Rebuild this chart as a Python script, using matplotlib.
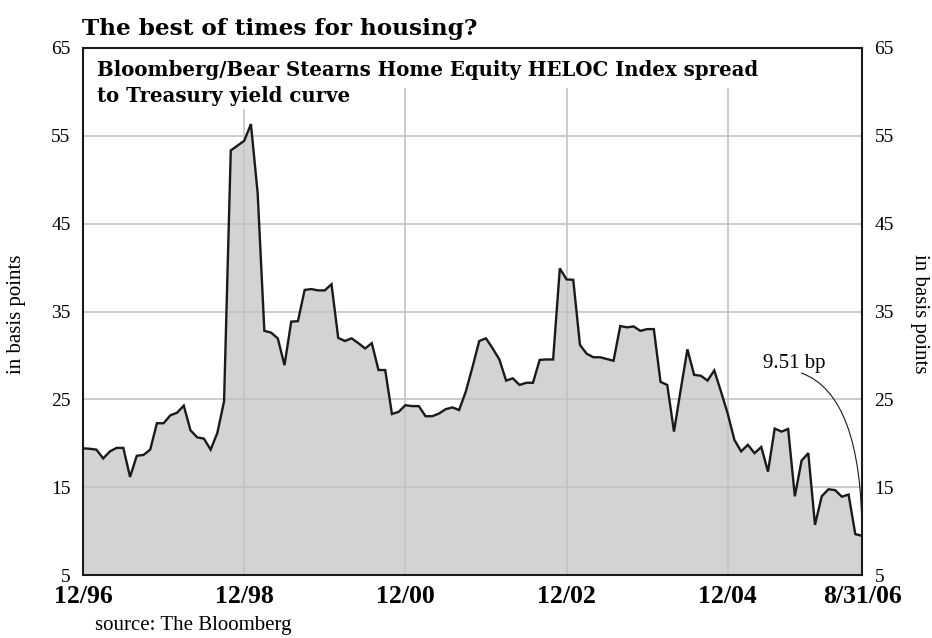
import matplotlib
matplotlib.use("Agg")
import matplotlib.pyplot as plt
import numpy as np

# monthly spread readings, 12/96 through 8/06 (basis points)
spread = [
    19.45, 19.4, 19.3, 18.3, 19.1, 19.5, 19.5, 16.2, 18.6, 18.7,
    19.3, 22.3, 22.3, 23.2, 23.5, 24.3, 21.5, 20.7, 20.55, 19.3,
    21.2, 24.8, 53.3, 53.85, 54.4, 56.3, 48.5, 32.8, 32.6, 31.95,
    28.9, 33.85, 33.9, 37.45, 37.55, 37.4, 37.4, 38.1, 32.0, 31.65,
    31.95, 31.4, 30.8, 31.4, 28.35, 28.35, 23.35, 23.6, 24.35, 24.25,
    24.25, 23.1, 23.1, 23.4, 23.9, 24.1, 23.8, 25.9, 28.7, 31.65,
    31.95, 30.8, 29.55, 27.15, 27.4, 26.65, 26.9, 26.9, 29.5, 29.55,
    29.55, 39.9, 38.65, 38.6, 31.2, 30.2, 29.8, 29.8, 29.6, 29.4,
    33.35, 33.2, 33.3, 32.8, 33.0, 33.0, 27.0, 26.65, 21.35, 26.1,
    30.7, 27.8, 27.7, 27.15, 28.3, 25.9, 23.4, 20.4, 19.1, 19.85,
    18.9, 19.6, 16.8, 21.7, 21.35, 21.65, 14.0, 18.05, 18.9, 10.75,
    14.0, 14.8, 14.7, 13.95, 14.2, 9.7, 9.51,
]
months = np.arange(len(spread))

tick_pos = [0, 24, 48, 72, 96, 116]
tick_labels = ["12/96", "12/98", "12/00", "12/02", "12/04", "8/31/06"]
y_ticks = [5, 15, 25, 35, 45, 55, 65]

serif = ["Liberation Serif", "DejaVu Serif"]
wide_serif = ["DejaVu Serif"]

fig = plt.figure(figsize=(9.32, 6.38), dpi=100)
ax = fig.add_axes([0.0891, 0.098, 0.8358, 0.8275])

ax.fill_between(months, 5, spread, color="#d2d3d5", lw=0, zorder=1)
ax.plot(months, spread, color="#1a1a1a", lw=1.7, zorder=4, solid_joinstyle="miter")

# grid lines
for v in y_ticks[1:-1]:
    ax.axhline(v, color="#c3c3c3", lw=1.2, zorder=2)
ax.vlines(tick_pos[1:-1], 5, 60.4, color="#c3c3c3", lw=1.2, zorder=2)

ax.set_xlim(0, 116)
ax.set_ylim(5, 65)
ax.set_yticks(y_ticks)
ax.set_yticklabels([str(v) for v in y_ticks], family=serif, fontsize=14)
ax.set_xticks(tick_pos)
ax.set_xticklabels(tick_labels, family=serif, fontsize=18.5, fontweight="bold")
ax.tick_params(axis="y", length=0, pad=9, labelleft=True, labelright=True)
ax.tick_params(axis="x", length=0, pad=7)
for s in ax.spines.values():
    s.set_linewidth(1.5)
    s.set_color("#1a1a1a")
    s.set_zorder(5)

# subtitle inside the plot
box = dict(facecolor="white", edgecolor="none", pad=2)
ax.text(0.018, 0.946, "Bloomberg/Bear Stearns Home Equity HELOC Index spread",
        transform=ax.transAxes, family=wide_serif, fontsize=14.2, fontweight="bold",
        va="baseline", ha="left", zorder=6, bbox=box)
ax.text(0.018, 0.897, "to Treasury yield curve",
        transform=ax.transAxes, family=wide_serif, fontsize=14.2, fontweight="bold",
        va="baseline", ha="left", zorder=6, bbox=box)

# end-value callout
ax.text(105.9, 28.6, "9.51 bp", family=serif, fontsize=15, ha="center",
        va="baseline", zorder=6)
ax.annotate("", xy=(months[-1], spread[-1]), xytext=(107.0, 28.0),
            arrowprops=dict(arrowstyle="-", lw=0.8, color="#1a1a1a",
                            connectionstyle="angle3,angleA=-20,angleB=90",
                            shrinkA=0, shrinkB=0), zorder=6)

fig.text(0.088, 0.945, "The best of times for housing?", family=wide_serif,
         fontsize=16.7, fontweight="bold", va="baseline", ha="left")
fig.text(0.018, 0.508, "in basis points", family=serif, fontsize=15,
         rotation=90, va="center", ha="center")
fig.text(0.987, 0.508, "in basis points", family=serif, fontsize=15,
         rotation=270, va="center", ha="center")
fig.text(0.102, 0.012, "source: The Bloomberg", family=serif, fontsize=15,
         va="baseline", ha="left")

fig.savefig("out.png", dpi=100)
